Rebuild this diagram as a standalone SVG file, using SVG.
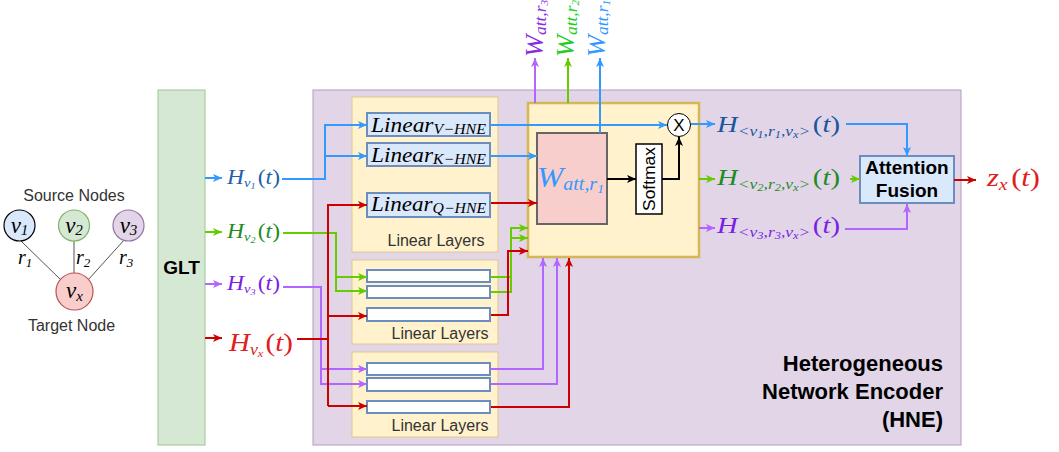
<svg xmlns="http://www.w3.org/2000/svg" width="1059" height="452" viewBox="0 0 1059 452">
<style>
.s{font-family:"Liberation Sans",Arial,sans-serif}
.bd{font-weight:bold}
.m{font-family:"Liberation Serif","Times New Roman",serif;font-style:italic}
.u{font-style:normal}
.c{fill:none;stroke-width:2}
.b{stroke:#3399ff}.g{stroke:#66cc00}.p{stroke:#b266ff}.r{stroke:#cc0000}.k{stroke:#000}
.ll{fill:#fff2cc;stroke:#e0c88a;stroke-width:1}
.lb{fill:#dae8fc;stroke:#6c8ebf;stroke-width:2}
.lw{fill:#fff;stroke:#6c8ebf;stroke-width:2}
</style>
<defs>
<marker id="ab" viewBox="0 0 10 10" refX="10" refY="5" markerWidth="9" markerHeight="9" markerUnits="userSpaceOnUse" orient="auto"><path d="M0,0.5 L10,5 L0,9.5 L2.5,5 z" fill="#3399ff"/></marker>
<marker id="ag" viewBox="0 0 10 10" refX="10" refY="5" markerWidth="9" markerHeight="9" markerUnits="userSpaceOnUse" orient="auto"><path d="M0,0.5 L10,5 L0,9.5 L2.5,5 z" fill="#66cc00"/></marker>
<marker id="ap" viewBox="0 0 10 10" refX="10" refY="5" markerWidth="9" markerHeight="9" markerUnits="userSpaceOnUse" orient="auto"><path d="M0,0.5 L10,5 L0,9.5 L2.5,5 z" fill="#b266ff"/></marker>
<marker id="ar" viewBox="0 0 10 10" refX="10" refY="5" markerWidth="9" markerHeight="9" markerUnits="userSpaceOnUse" orient="auto"><path d="M0,0.5 L10,5 L0,9.5 L2.5,5 z" fill="#cc0000"/></marker>
<marker id="ak" viewBox="0 0 10 10" refX="10" refY="5" markerWidth="9" markerHeight="9" markerUnits="userSpaceOnUse" orient="auto"><path d="M0,0.5 L10,5 L0,9.5 L2.5,5 z" fill="#000"/></marker>
</defs>
<rect width="1059" height="452" fill="#fff"/>

<!-- source graph -->
<g id="graph">
<text class="s" x="74" y="201" font-size="16" fill="#333" text-anchor="middle">Source Nodes</text>
<g stroke="#555" stroke-width="1">
<line x1="21" y1="241" x2="61" y2="280"/>
<line x1="74" y1="241" x2="74" y2="273"/>
<line x1="125" y1="239" x2="88" y2="280"/>
</g>
<g id="v1"><circle cx="19.5" cy="225.5" r="15.5" fill="#dae8fc" stroke="#000" stroke-width="1.2"/>
<text class="m" x="19.5" y="233" font-size="23" text-anchor="middle">v<tspan font-size="15" dy="2">1</tspan></text></g>
<g id="v2"><circle cx="74" cy="225.5" r="15.5" fill="#d5e8d4" stroke="#82b366" stroke-width="1.2"/>
<text class="m" x="74" y="233" font-size="23" text-anchor="middle">v<tspan font-size="15" dy="2">2</tspan></text></g>
<g id="v3"><circle cx="128.5" cy="225.5" r="15.5" fill="#e1d5e7" stroke="#9673a6" stroke-width="1.2"/>
<text class="m" x="128.5" y="233" font-size="23" text-anchor="middle">v<tspan font-size="15" dy="2">3</tspan></text></g>
<g id="vx"><circle cx="74.5" cy="291.5" r="18.5" fill="#f8cecc" stroke="#b85450" stroke-width="1.2"/>
<text class="m" x="74.5" y="298" font-size="23" text-anchor="middle">v<tspan font-size="15" dy="3">x</tspan></text></g>
<text class="m" x="18" y="264" font-size="20">r<tspan font-size="13" dy="3">1</tspan></text>
<text class="m" x="76" y="264" font-size="20">r<tspan font-size="13" dy="3">2</tspan></text>
<text class="m" x="119" y="264" font-size="20">r<tspan font-size="13" dy="3">3</tspan></text>
<text class="s" x="71.5" y="331" font-size="16" fill="#333" text-anchor="middle">Target Node</text>
</g>

<!-- GLT -->
<g id="glt">
<rect x="158" y="90" width="47" height="355" fill="#d5e8d4" stroke="#9cc690" stroke-width="1"/>
<text class="s bd" x="181.5" y="274" font-size="19" text-anchor="middle">GLT</text>
</g>

<!-- HNE -->
<g id="hne">
<rect x="313" y="90" width="648" height="355" fill="#e1d5e7" stroke="#b59ac6" stroke-width="1"/>
<text class="s bd" font-size="22" text-anchor="end"><tspan x="943" y="371">Heterogeneous</tspan><tspan x="943" y="399">Network Encoder</tspan><tspan x="943" y="427">(HNE)</tspan></text>
</g>

<!-- linear layer groups -->
<g id="ll1">
<rect class="ll" x="352" y="97" width="146" height="155"/>
<rect class="lb" x="367" y="113" width="123" height="23"/>
<rect class="lb" x="367" y="143" width="123" height="23"/>
<rect class="lb" x="367" y="193" width="123" height="24"/>
<text class="m" x="371" y="132" font-size="22" textLength="115" lengthAdjust="spacingAndGlyphs">Linear<tspan font-size="15" dy="2">V−HNE</tspan></text>
<text class="m" x="371" y="162" font-size="22" textLength="115" lengthAdjust="spacingAndGlyphs">Linear<tspan font-size="15" dy="2">K−HNE</tspan></text>
<text class="m" x="371" y="211" font-size="22" textLength="115" lengthAdjust="spacingAndGlyphs">Linear<tspan font-size="15" dy="2">Q−HNE</tspan></text>
<text class="s" x="436" y="246" font-size="16" fill="#333" text-anchor="middle">Linear Layers</text>
</g>
<g id="ll2">
<rect class="ll" x="352" y="260" width="146" height="84"/>
<rect class="lw" x="367" y="270" width="123" height="12"/>
<rect class="lw" x="367" y="286" width="123" height="12"/>
<rect class="lw" x="367" y="308" width="123" height="13"/>
<text class="s" x="440" y="339" font-size="16" fill="#333" text-anchor="middle">Linear Layers</text>
</g>
<g id="ll3">
<rect class="ll" x="352" y="352" width="146" height="85"/>
<rect class="lw" x="367" y="363" width="123" height="12"/>
<rect class="lw" x="367" y="378" width="123" height="13"/>
<rect class="lw" x="367" y="401" width="123" height="12"/>
<text class="s" x="440" y="431" font-size="16" fill="#333" text-anchor="middle">Linear Layers</text>
</g>

<!-- attention block -->
<g id="att">
<rect x="528" y="103" width="171" height="154" fill="#fff2cc" stroke="#d6b656" stroke-width="2.5"/>
<rect x="537" y="133" width="70" height="91" fill="#f8cecc" stroke="#666" stroke-width="2"/>
<text class="m" x="537" y="187" font-size="30" fill="#3399ff" textLength="67" lengthAdjust="spacingAndGlyphs">W<tspan font-size="19" dy="3">att,r</tspan><tspan font-size="13" dy="3">1</tspan></text>
</g>
<g id="softmax">
<rect x="636" y="144" width="26" height="70" fill="#fff" stroke="#000" stroke-width="1.5"/>
<text class="s" transform="translate(655,179) rotate(-90)" x="0" y="0" font-size="16" text-anchor="middle" textLength="64" lengthAdjust="spacingAndGlyphs">Softmax</text>
</g>
<g id="mul">
<circle cx="679" cy="125" r="11.5" fill="#fff" stroke="#000" stroke-width="1"/>
<text class="s" x="679" y="131" font-size="17" text-anchor="middle">X</text>
</g>

<!-- attention fusion -->
<g id="fusion">
<rect x="860" y="156" width="94" height="47" fill="#dae8fc" stroke="#6c8ebf" stroke-width="2"/>
<text class="s bd" font-size="19" text-anchor="middle"><tspan x="907" y="174">Attention</tspan><tspan x="907" y="197">Fusion</tspan></text>
</g>

<!-- connectors -->
<g id="connectors">
<path class="c b" d="M205,178 H222" marker-end="url(#ab)"/>
<path class="c b" d="M282,179 H325 V125 H367" marker-end="url(#ab)"/>
<path class="c b" d="M325,156 H367" marker-end="url(#ab)"/>
<path class="c b" d="M491,125 H667" marker-end="url(#ab)"/>
<path class="c b" d="M491,156 H537" marker-end="url(#ab)"/>
<path class="c b" d="M600,133 V58" marker-end="url(#ab)"/>
<path class="c b" d="M691,124 H715" marker-end="url(#ab)"/>
<path class="c b" d="M846,124 H907 V156" marker-end="url(#ab)"/>

<path class="c g" d="M205,232 H222" marker-end="url(#ag)"/>
<path class="c g" d="M283,233 H336 V291 H367" marker-end="url(#ag)"/>
<path class="c g" d="M336,277 H367" marker-end="url(#ag)"/>
<path class="c g" d="M491,277 H511 V228 H528" marker-end="url(#ag)"/>
<path class="c g" d="M491,292 H511 V238 H528" marker-end="url(#ag)"/>
<path class="c g" d="M568,103 V58" marker-end="url(#ag)"/>
<path class="c g" d="M699,179 H715" marker-end="url(#ag)"/>
<path class="c g" d="M850,179 H860" marker-end="url(#ag)"/>

<path class="c p" d="M205,284 H222" marker-end="url(#ap)"/>
<path class="c p" d="M283,287 H321 V384 H367" marker-end="url(#ap)"/>
<path class="c p" d="M321,369 H367" marker-end="url(#ap)"/>
<path class="c p" d="M491,369 H543 V258" marker-end="url(#ap)"/>
<path class="c p" d="M491,384 H557 V258" marker-end="url(#ap)"/>
<path class="c p" d="M535,103 V58" marker-end="url(#ap)"/>
<path class="c p" d="M699,228 H715" marker-end="url(#ap)"/>
<path class="c p" d="M845,229 H907 V204" marker-end="url(#ap)"/>

<path class="c r" d="M205,338 H222" marker-end="url(#ar)"/>
<path class="c r" d="M297,339 H328" stroke-width="3"/>
<path class="c r" d="M328,406 V205 H367" marker-end="url(#ar)"/>
<path class="c r" d="M328,316 H367" marker-end="url(#ar)"/>
<path class="c r" d="M328,406 H367" marker-end="url(#ar)"/>
<path class="c r" d="M491,203 H537" marker-end="url(#ar)"/>
<path class="c r" d="M491,315 H508 V251 H528" marker-end="url(#ar)"/>
<path class="c r" d="M491,407 H569 V258" marker-end="url(#ar)"/>
<path class="c r" d="M954,180 H976" marker-end="url(#ar)"/>

<path class="c k" d="M607,179 H636" marker-end="url(#ak)"/>
<path class="c k" d="M662,179 H679 V137" marker-end="url(#ak)"/>
</g>

<!-- math labels -->
<g id="labels">
<text class="m" x="227" y="184" font-size="21" fill="#1f5fae" textLength="53" lengthAdjust="spacingAndGlyphs">H<tspan font-size="13" dy="3">v</tspan><tspan font-size="9" dy="2">1</tspan><tspan class="u" font-size="21" dy="-5" dx="2">(</tspan>t<tspan class="u">)</tspan></text>
<text class="m" x="227" y="238" font-size="21" fill="#1f8c1f" textLength="53" lengthAdjust="spacingAndGlyphs">H<tspan font-size="13" dy="3">v</tspan><tspan font-size="9" dy="2">2</tspan><tspan class="u" font-size="21" dy="-5" dx="2">(</tspan>t<tspan class="u">)</tspan></text>
<text class="m" x="227" y="290" font-size="21" fill="#7a1fe6" textLength="53" lengthAdjust="spacingAndGlyphs">H<tspan font-size="13" dy="3">v</tspan><tspan font-size="9" dy="2">3</tspan><tspan class="u" font-size="21" dy="-5" dx="2">(</tspan>t<tspan class="u">)</tspan></text>
<text class="m" x="229" y="351" font-size="26" fill="#e02020" textLength="64" lengthAdjust="spacingAndGlyphs">H<tspan font-size="16" dy="4">v</tspan><tspan font-size="11" dy="2">x</tspan><tspan class="u" font-size="26" dy="-6" dx="2">(</tspan>t<tspan class="u">)</tspan></text>

<text class="m" x="717" y="132" font-size="23" fill="#1a56a0" textLength="123" lengthAdjust="spacingAndGlyphs">H<tspan font-size="14" dy="4">&lt;v</tspan><tspan font-size="10" dy="2">1</tspan><tspan font-size="14" dy="-2">,r</tspan><tspan font-size="10" dy="2">1</tspan><tspan font-size="14" dy="-2">,v</tspan><tspan font-size="10" dy="2">x</tspan><tspan font-size="14" dy="-2">&gt;</tspan><tspan class="u" font-size="23" dy="-4" dx="2">(</tspan>t<tspan class="u">)</tspan></text>
<text class="m" x="717" y="185" font-size="23" fill="#1f8c1f" textLength="123" lengthAdjust="spacingAndGlyphs">H<tspan font-size="14" dy="4">&lt;v</tspan><tspan font-size="10" dy="2">2</tspan><tspan font-size="14" dy="-2">,r</tspan><tspan font-size="10" dy="2">2</tspan><tspan font-size="14" dy="-2">,v</tspan><tspan font-size="10" dy="2">x</tspan><tspan font-size="14" dy="-2">&gt;</tspan><tspan class="u" font-size="23" dy="-4" dx="2">(</tspan>t<tspan class="u">)</tspan></text>
<text class="m" x="717" y="233" font-size="23" fill="#7a1fe6" textLength="123" lengthAdjust="spacingAndGlyphs">H<tspan font-size="14" dy="4">&lt;v</tspan><tspan font-size="10" dy="2">3</tspan><tspan font-size="14" dy="-2">,r</tspan><tspan font-size="10" dy="2">3</tspan><tspan font-size="14" dy="-2">,v</tspan><tspan font-size="10" dy="2">x</tspan><tspan font-size="14" dy="-2">&gt;</tspan><tspan class="u" font-size="23" dy="-4" dx="2">(</tspan>t<tspan class="u">)</tspan></text>

<text class="m" x="987" y="186" font-size="25" fill="#e02020" textLength="53" lengthAdjust="spacingAndGlyphs">z<tspan font-size="16" dy="4">x</tspan><tspan class="u" font-size="25" dy="-4" dx="3">(</tspan>t<tspan class="u">)</tspan></text>

<text class="m" transform="translate(543,57) rotate(-90)" x="0" y="0" font-size="26" fill="#8a2be2" textLength="57" lengthAdjust="spacingAndGlyphs">W<tspan font-size="17" dy="3">att,r</tspan><tspan font-size="11" dy="2">3</tspan></text>
<text class="m" transform="translate(574,57) rotate(-90)" x="0" y="0" font-size="26" fill="#22cc22" textLength="57" lengthAdjust="spacingAndGlyphs">W<tspan font-size="17" dy="3">att,r</tspan><tspan font-size="11" dy="2">2</tspan></text>
<text class="m" transform="translate(605,57) rotate(-90)" x="0" y="0" font-size="26" fill="#3399ff" textLength="57" lengthAdjust="spacingAndGlyphs">W<tspan font-size="17" dy="3">att,r</tspan><tspan font-size="11" dy="2">1</tspan></text>
</g>
</svg>
